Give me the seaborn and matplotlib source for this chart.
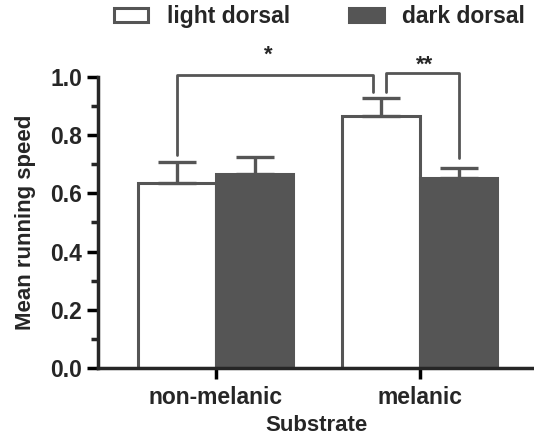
import numpy as np
import pandas as pd
import matplotlib
matplotlib.use("Agg")
import matplotlib.pyplot as plt
import seaborn as sns
from matplotlib.patches import Patch
from matplotlib.ticker import MultipleLocator

# valores
substrate = ["non-melanic", "melanic"]
dorsal = ["light dorsal", "dark dorsal"]
mean_light = [0.636, 0.866]
mean_dark = [0.668, 0.654]
err_light = [0.070, 0.062]
err_dark = [0.057, 0.034]

df = pd.DataFrame({
    "Substrate": substrate * 2,
    "dorsal": [dorsal[0]] * 2 + [dorsal[1]] * 2,
    "speed": mean_light + mean_dark,
    "err": err_light + err_dark,
})

sns.set_style("ticks")
plt.rcParams["font.family"] = ["Liberation Sans", "DejaVu Sans"]
plt.rcParams["font.weight"] = "bold"

fig = plt.figure(figsize=(5.34, 4.37), dpi=100)
ax = fig.add_axes([0.1835, 0.158, 0.8165, 0.666])

edge = "#555555"
sns.barplot(data=df, x="Substrate", y="speed", hue="dorsal", order=substrate,
            hue_order=dorsal, palette=["white", "#555555"], errorbar=None,
            width=0.76, edgecolor=edge, linewidth=2.2, legend=False, ax=ax)

# barras de erro (só para cima)
for i, d in enumerate(dorsal):
    sub = df[df["dorsal"] == d].set_index("Substrate").loc[substrate]
    xs = np.arange(len(substrate)) + (i - 0.5) * 0.38
    ax.errorbar(xs, sub["speed"], yerr=[np.zeros(len(xs)), sub["err"]],
                fmt="none", ecolor=edge, elinewidth=2.4, capsize=14,
                capthick=2.4, zorder=1)

# colchetes de significância
xl, xd = -0.19, 1.19
ax.plot([xl, xl, 0.77, 0.77], [0.732, 1.007, 1.007, 0.948], color=edge,
        lw=2, clip_on=False)
ax.plot([0.833, 0.833, xd, xd], [0.948, 1.012, 1.012, 0.722], color=edge,
        lw=2, clip_on=False)
ax.text(0.255, 1.04, "*", ha="center", va="bottom", fontsize=16,
        fontweight="bold", clip_on=False)
ax.text(1.025, 1.005, "**", ha="center", va="bottom", fontsize=16,
        fontweight="bold", clip_on=False)

ax.set_xlim(-0.578, 1.559)
ax.set_ylim(0, 1.0)
ax.yaxis.set_major_locator(MultipleLocator(0.2))
ax.yaxis.set_minor_locator(MultipleLocator(0.1))
ax.yaxis.set_major_formatter(matplotlib.ticker.FormatStrFormatter("%.1f"))
ax.tick_params(axis="both", which="major", length=8, width=2.5, labelsize=16.5,
               color="black")
ax.tick_params(axis="x", pad=5)
ax.tick_params(axis="y", which="minor", length=5, width=2.5)
for lab in ax.get_xticklabels() + ax.get_yticklabels():
    lab.set_fontweight("bold")
ax.set_xlabel("Substrate", fontsize=16, fontweight="bold", labelpad=4)
ax.set_ylabel("Mean running speed", fontsize=16, fontweight="bold", labelpad=10)

sns.despine(ax=ax)
for s in ["left", "bottom"]:
    ax.spines[s].set_linewidth(2.5)

handles = [Patch(facecolor="white", edgecolor=edge, linewidth=2.2),
           Patch(facecolor="#555555", edgecolor="#555555", linewidth=2.2)]
fig.legend(handles, dorsal, loc="center", bbox_to_anchor=(0.598, 0.962),
           ncol=2, frameon=False, prop={"size": 16.5, "weight": "bold"},
           handlelength=1.5, handleheight=0.6, handletextpad=0.8,
           columnspacing=2.6)

fig.savefig("out.png", dpi=100)
